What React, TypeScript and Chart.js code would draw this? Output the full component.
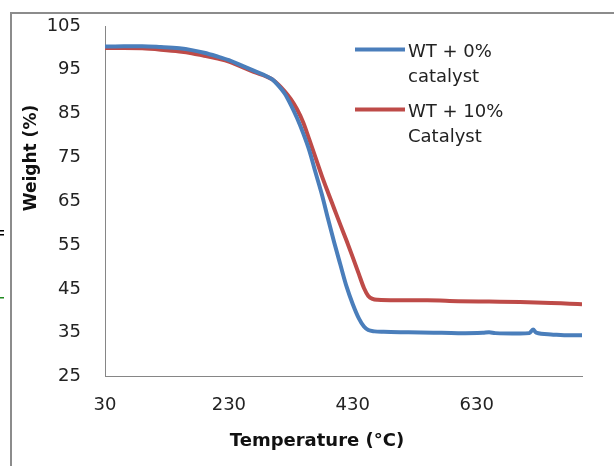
import React, { useEffect, useRef } from "react";
import { Chart, registerables } from "chart.js";

Chart.register(...registerables);

// ---- data ----
const tempBlue = [30, 60, 90, 120, 150, 170, 190, 210, 230, 250, 270, 290, 300, 310, 320, 330, 340, 350, 360, 370, 380, 390, 400, 410, 420, 430, 440, 448, 455, 465, 480, 520, 560, 600, 640, 650, 660, 700, 715, 721, 726, 750, 780, 800];
const weightBlue = [100.3, 100.4, 100.4, 100.2, 99.9, 99.5, 98.9, 98.1, 97.2, 96.0, 94.8, 93.6, 92.8, 91.4, 89.6, 87.0, 84.0, 80.5, 76.5, 71.5, 66.6, 61.0, 55.6, 50.5, 45.5, 41.5, 38.2, 36.4, 35.6, 35.3, 35.2, 35.1, 35.0, 34.9, 35.0, 35.1, 34.9, 34.8, 34.9, 35.7, 35.0, 34.6, 34.4, 34.4];

const tempRed = [30, 60, 90, 120, 150, 170, 190, 210, 230, 250, 270, 290, 300, 310, 320, 330, 340, 350, 360, 370, 380, 390, 400, 410, 420, 430, 440, 448, 455, 462, 470, 500, 550, 600, 650, 700, 750, 780, 800];
const weightRed = [100.0, 100.0, 99.9, 99.6, 99.2, 98.8, 98.2, 97.6, 96.9, 95.7, 94.5, 93.5, 92.8, 91.6, 90.1, 88.3, 86.0, 83.0, 79.0, 74.9, 70.8, 67.0, 63.3, 59.6, 56.0, 52.2, 48.3, 45.2, 43.4, 42.7, 42.5, 42.4, 42.4, 42.2, 42.1, 42.0, 41.8, 41.6, 41.5];

const xTickValues = [30, 230, 430, 630];
const yTickValues = [25, 35, 45, 55, 65, 75, 85, 95, 105];
const seriesLabels = [["WT + 0%", "catalyst"], ["WT + 10%", "Catalyst"]];
const seriesColors = ["#4A7EBB", "#BE4B48"];
const xTitle = "Temperature (°C)";
const yTitle = "Weight (%)";

const FONT = "'DejaVu Sans', sans-serif";

const decorPlugin = {
  id: "decor",
  afterDraw(chart: any) {
    const ctx = chart.ctx;
    ctx.save();
    // frame border
    ctx.strokeStyle = "#8c8c8c";
    ctx.lineWidth = 2;
    ctx.beginPath();
    ctx.moveTo(11, 466);
    ctx.lineTo(11, 13);
    ctx.lineTo(614, 13);
    ctx.stroke();
    // small artefacts at left edge
    ctx.fillStyle = "#000";
    ctx.fillRect(0, 230, 4, 1.5);
    ctx.fillRect(0, 234, 4, 1.5);
    ctx.fillStyle = "#1f8a1f";
    ctx.fillRect(0, 297, 4, 1.5);

    // legend
    const legendTop = [49.5, 109.5];
    ctx.font = `18px ${FONT}`;
    ctx.textAlign = "left";
    ctx.textBaseline = "alphabetic";
    for (let i = 0; i < seriesLabels.length; i++) {
      const y = legendTop[i];
      ctx.strokeStyle = seriesColors[i];
      ctx.lineWidth = 4;
      ctx.beginPath();
      ctx.moveTo(355, y);
      ctx.lineTo(405, y);
      ctx.stroke();
      ctx.fillStyle = "#222";
      ctx.fillText(seriesLabels[i][0], 408, y + 7);
      ctx.fillText(seriesLabels[i][1], 408, y + 32);
    }

    // axis titles
    ctx.fillStyle = "#111";
    ctx.textAlign = "center";
    ctx.textBaseline = "middle";
    ctx.font = `bold 18px ${FONT}`;
    ctx.fillText(xTitle, 317, 441);
    ctx.font = `bold 17px ${FONT}`;
    ctx.translate(32, 158);
    ctx.rotate(-Math.PI / 2);
    ctx.fillText(yTitle, 0, 0);
    ctx.restore();
  },
};

export default function App() {
  const canvasRef = useRef<HTMLCanvasElement | null>(null);

  useEffect(() => {
    if (!canvasRef.current) return;
    const chart = new Chart(canvasRef.current, {
      type: "line",
      data: {
        datasets: [
          {
            label: seriesLabels[0].join(" "),
            data: tempBlue.map((t, i) => ({ x: t, y: weightBlue[i] })),
            borderColor: seriesColors[0],
            backgroundColor: seriesColors[0],
            borderWidth: 4,
            pointRadius: 0,
            cubicInterpolationMode: "monotone",
          },
          {
            label: seriesLabels[1].join(" "),
            data: tempRed.map((t, i) => ({ x: t, y: weightRed[i] })),
            borderColor: seriesColors[1],
            backgroundColor: seriesColors[1],
            borderWidth: 4,
            pointRadius: 0,
            cubicInterpolationMode: "monotone",
          },
        ],
      },
      options: {
        responsive: false,
        animation: false,
        layout: { padding: { left: 0, top: 26, right: 32, bottom: 0 } },
        plugins: {
          legend: { display: false },
          tooltip: { enabled: false },
        },
        scales: {
          x: {
            type: "linear",
            min: 30,
            max: 800,
            grid: { display: false, drawTicks: true, tickLength: 16 },
            border: { display: true, color: "#868686", width: 1 },
            ticks: {
              color: "#222",
              font: { family: FONT, size: 18 },
              padding: 2,
              maxRotation: 0,
            },
            afterBuildTicks: (scale: any) => {
              scale.ticks = xTickValues.map((v) => ({ value: v }));
            },
            afterFit: (scale: any) => {
              scale.height = 89.5;
            },
          },
          y: {
            type: "linear",
            min: 25,
            max: 105,
            grid: { display: false, drawTicks: true, tickLength: 22 },
            border: { display: true, color: "#868686", width: 1 },
            ticks: {
              color: "#222",
              font: { family: FONT, size: 18 },
              padding: 2,
            },
            afterBuildTicks: (scale: any) => {
              scale.ticks = yTickValues.map((v) => ({ value: v }));
            },
            afterFit: (scale: any) => {
              scale.width = 105;
            },
          },
        },
      },
      plugins: [decorPlugin],
    });
    return () => chart.destroy();
  }, []);

  return (
    <div style={{ position: "absolute", left: 0, top: 0, width: 614, height: 466, background: "#fff" }}>
      <canvas ref={canvasRef} width={614} height={466} />
    </div>
  );
}
